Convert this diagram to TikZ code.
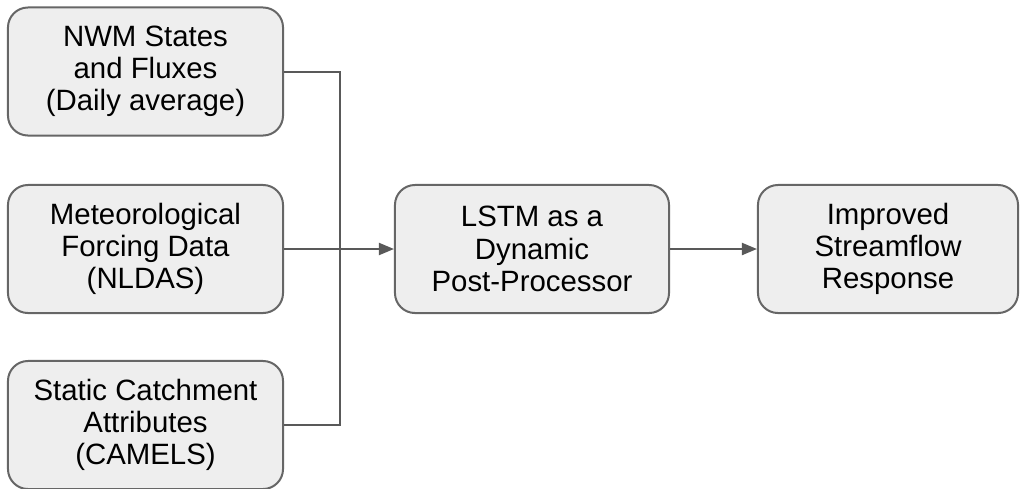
\documentclass[tikz,border=0pt]{standalone}
\usepackage{fontspec}
\setmainfont{Liberation Sans}
\usetikzlibrary{arrows.meta,positioning}

\begin{document}
\begin{tikzpicture}[
  x=0.025cm,y=-0.025cm,
  font=\fontsize{20.9pt}{22.9pt}\selectfont,
  box/.style={draw=boxLine,fill=boxFill,line width=0.05cm,rounded corners=0.5cm,align=center,minimum height=3.2cm},
  arr/.style={-{Triangle[length=0.375cm,width=0.3cm]},line width=0.05cm,draw=wireCol},
  wire/.style={line width=0.05cm,draw=wireCol},
]
\definecolor{boxFill}{HTML}{EEEEEE}
\definecolor{boxLine}{HTML}{666666}
\definecolor{wireCol}{HTML}{595959}
\useasboundingbox (0,0) rectangle (1020,488);

\node[box,minimum width=6.875cm] (nwm) at (145.5,71.5) {NWM States\\and Fluxes\\(Daily average)};
\node[box,minimum width=6.875cm] (forcing) at (145.5,249) {Meteorological\\Forcing Data\\(NLDAS)};
\node[box,minimum width=6.875cm] (camels) at (145.5,425) {Static Catchment\\Attributes\\(CAMELS)};
\node[box,minimum width=6.85cm] (lstm) at (532,249) {LSTM as a\\Dynamic\\Post-Processor};
\node[box,minimum width=6.5cm] (out) at (888,249) {Improved\\Streamflow\\Response};

\coordinate (jn) at (340,249);
\draw[wire] (nwm.east) -| (jn) |- (camels.east);
\draw[arr] (forcing) -- (lstm);
\draw[arr] (lstm) -- (out);
\end{tikzpicture}
\end{document}
